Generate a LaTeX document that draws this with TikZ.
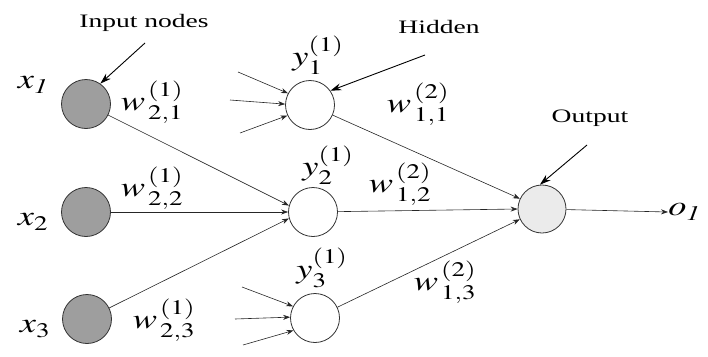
\documentclass[tikz,border=0pt]{standalone}
\usepackage{mathptmx}
\usepackage{fontspec}
\setmainfont{Liberation Serif}
\usetikzlibrary{arrows.meta}
\begin{document}
\begin{tikzpicture}[x=1pt,y=-1pt,
  neuron/.style={circle,draw=black!80,line width=0.8pt,minimum size=49pt,inner sep=0pt},
  inputn/.style={neuron,fill=black!38},
  hiddenn/.style={neuron,fill=white},
  outputn/.style={neuron,fill=black!8,minimum size=48pt},
  conn/.style={draw=black!85,line width=0.6pt,-{Stealth[length=7pt,width=5pt]}},
  pointer/.style={draw=black,line width=0.9pt,-{Stealth[length=11pt,width=7pt]}},
  caption/.style={font=\fontsize{19}{21}\selectfont,inner sep=0pt,xscale=1.45},
  mlabel/.style={font=\fontsize{28}{31}\selectfont,inner sep=0pt,xscale=1.3}]
\useasboundingbox (0,0) rectangle (708,356);
% neurons
\node[inputn] (x1) at (86,104) {};
\node[inputn] (x2) at (86,212) {};
\node[inputn] (x3) at (87,319) {};
\node[hiddenn] (y1) at (310,105) {};
\node[hiddenn] (y2) at (313,212) {};
\node[hiddenn] (y3) at (315,318) {};
\node[outputn] (out) at (542,209) {};
% labels
\node[mlabel] (lx1) at (33,85) {$x_{\mathit{1}}$};
\node[mlabel] (lx2) at (33,222) {$x_{2}$};
\node[mlabel] (lx3) at (35,329) {$x_{3}$};
\node[mlabel] (ly1) at (318,55) {$y_{1}^{(1)}$};
\node[mlabel] (ly2) at (328,165) {$y_{2}^{(1)}$};
\node[mlabel] (ly3) at (322,268) {$y_{3}^{(1)}$};
\node[mlabel] (w21) at (152,102) {$w_{\,2,1}^{\,(1)}$};
\node[mlabel] (w22) at (152,188) {$w_{\,2,2}^{\,(1)}$};
\node[mlabel] (w23) at (164,320) {$w_{\,2,3}^{\,(1)}$};
\node[mlabel] (w11) at (418,104) {$w_{\,1,1}^{\,(2)}$};
\node[mlabel] (w12) at (400,184) {$w_{\,1,2}^{\,(2)}$};
\node[mlabel] (w13) at (445,282) {$w_{\,1,3}^{\,(2)}$};
\node[mlabel,anchor=west] (o1) at (668,212) {$o_{\mathit{1}}$};
% captions
\node[caption] (cin) at (144,23) {Input nodes};
\node[caption] (chid) at (439,27) {Hidden};
\node[caption] (cout) at (590,118) {Output};
\coordinate (pin) at (145,43);
\coordinate (phid) at (425,55);
\coordinate (pout) at (587,145);
\draw[pointer] (pin) -- (x1.55);
\draw[pointer] (phid) -- (y1.35);
\draw[pointer] (pout) -- (out.95);
% input -> hidden 2
\draw[conn] (x1) -- (y2.165);
\draw[conn] (x2) -- (y2.180);
\draw[conn] (x3) -- (y2.195);
% hidden -> output
\draw[conn] (y1) -- (out.155);
\draw[conn] (y2) -- (out.180);
\draw[conn] (y3) -- (out.205);
\draw[conn] (out) -- (o1.west);
% stub inputs to y1 and y3
\coordinate (a1) at (238,72);
\coordinate (a2) at (230,100);
\coordinate (a3) at (240,133);
\draw[conn] (a1) -- (y1.152);
\draw[conn] (a2) -- (y1.178);
\draw[conn] (a3) -- (y1.205);
\coordinate (b1) at (242,287);
\coordinate (b2) at (235,319);
\coordinate (b3) at (243,345);
\draw[conn] (b1) -- (y3.152);
\draw[conn] (b2) -- (y3.178);
\draw[conn] (b3) -- (y3.210);
\end{tikzpicture}
\end{document}
